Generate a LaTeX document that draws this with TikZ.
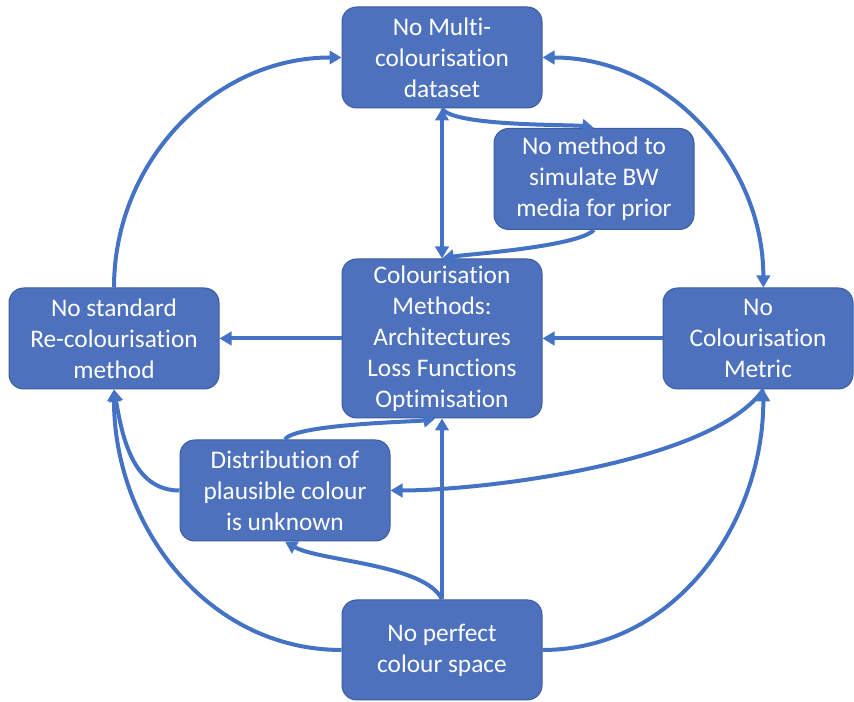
\documentclass[tikz,border=0pt]{standalone}
\usepackage{fontspec}
\setmainfont{Carlito}[Ligatures=NoCommon]
\usetikzlibrary{arrows.meta}
\definecolor{boxblue}{HTML}{4E71BE}
\definecolor{boxline}{HTML}{3B5C9E}
\definecolor{linkblue}{HTML}{4472C4}

\begin{document}
\begin{tikzpicture}[x=0.75pt,y=0.75pt,->,>={Triangle[length=9pt,width=10pt]},line width=3pt,color=linkblue,
    box/.style={rectangle, rounded corners=11pt, fill=boxblue, draw=boxline, line width=0.75pt, text=white, align=center, inner sep=0pt, minimum width=150pt, minimum height=75.75pt, font=\fontsize{19}{23.25}\selectfont}]

                \useasboundingbox (0,0) rectangle (854,702);

                \node[box, minimum height=119.25pt] (methods) at (442,363.5) {Colourisation\\Methods:\\Architectures\\Loss Functions\\Optimisation};
                \node[box, node distance=210.75pt, above of = methods] (dataset) {No Multi-\\colourisation\\dataset};
                \node[box] (prior) at (594,523) {No method to\\simulate BW\\media for prior};
                \node[box, minimum width=157.5pt, node distance=246pt, left of = methods] (recol) {No standard\\Re-colourisation\\method};
                \node[box, minimum width=142.5pt, node distance=237pt, right of = methods] (metric) {No\\Colourisation\\Metric};
                \node[box, minimum width=157.5pt] (distrib) at (285,211.5) {Distribution of\\plausible colour\\is unknown};
                \node[box, minimum height=75pt, node distance=233.6pt, below of = methods] (perfect) {No perfect\\colour space};

                \path
                    (recol) edge[out=90, in=180] (dataset)
                    (dataset) edge[<->, out=0, in=90] ([xshift=4pt]metric.north)
                    (dataset) edge[<->] (methods)
                    (dataset.south) edge[out=-60, in=170, looseness=0.35] (prior.north)
                    (prior.south) edge[out=-135, in=10, looseness=0.4] (methods.north)

                    (methods) edge (recol)
                    (metric) edge (methods)

                    (distrib.north) edge[out=60, in=-170, looseness=0.3] ([xshift=-5pt]methods.south)
                    (distrib.west) edge[out=180, in=-80] (recol.south)
                    ([xshift=4pt]metric.south) edge[out=-125, in=0, looseness=0.6] (distrib.east)

                    (perfect) edge (methods)
                    (perfect.north) edge[out=115, in=-30, looseness=0.6] (distrib.south)
                    (perfect.west) edge[out=180, in=-90] (recol.south)
                    (perfect.east) edge[out=0, in=-90] ([xshift=4pt]metric.south)
                ;
            \end{tikzpicture}
\end{document}
